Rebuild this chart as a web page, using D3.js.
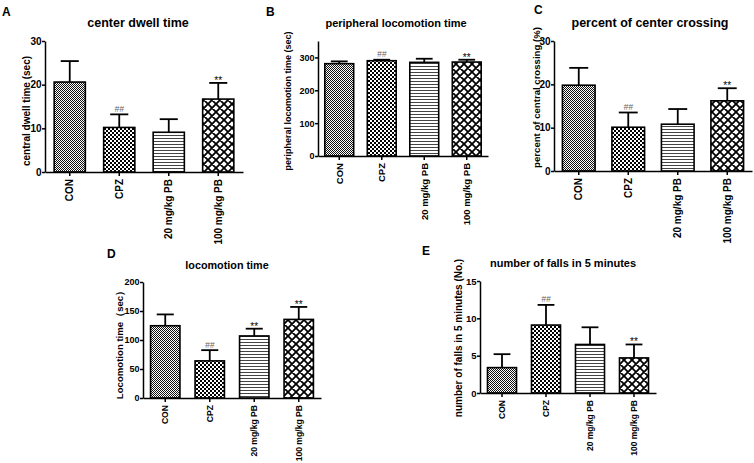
<!DOCTYPE html>
<html><head><meta charset="utf-8">
<script src="https://cdn.jsdelivr.net/npm/d3@7"></script>
<style>
html,body{margin:0;padding:0;background:#fff;}
text{font-family:"Liberation Sans",Arial,sans-serif;}
</style></head>
<body><svg id="c" width="754" height="463"></svg>
<script>
const categories = ["CON", "CPZ", "20 mg/kg PB", "100 mg/kg PB"];
const marks = ["", "##", "", "**"];
const marksD = ["", "##", "**", "**"];

const dwellMean = [20.6, 10.2, 9.1, 16.7];
const dwellSem  = [4.8, 3.0, 3.0, 3.7];
const dwellTicks = [0, 10, 20, 30];

const periMean = [281, 290, 285, 286];
const periSem  = [7, 3, 11, 7];
const periTicks = [0, 100, 200, 300];

const crossMean = [19.8, 10.1, 10.8, 16.2];
const crossSem  = [4.0, 3.4, 3.5, 2.9];
const crossTicks = [0, 10, 20, 30];

const locoMean = [124.6, 64, 107, 135.5];
const locoSem  = [19.5, 18.5, 12.5, 21.5];
const locoTicks = [0, 50, 100, 150, 200];

const fallsMean = [3.4, 9.1, 6.5, 4.7];
const fallsSem  = [1.8, 2.7, 2.3, 1.8];
const fallsTicks = [0, 5, 10, 15];

const svg = d3.select("#c");
const defs = svg.append("defs");

// CON: fine checker gray
(function(){
  const p = defs.append("pattern").attr("id","pCON").attr("patternUnits","userSpaceOnUse").attr("width",2).attr("height",2);
  p.append("rect").attr("width",2).attr("height",2).attr("fill","#fff");
  p.append("rect").attr("x",0).attr("y",0).attr("width",1).attr("height",1).attr("fill","#111");
  p.append("rect").attr("x",1).attr("y",1).attr("width",1).attr("height",1).attr("fill","#111");
})();
// CPZ: checker 2px
(function(){
  const p = defs.append("pattern").attr("id","pCPZ").attr("patternUnits","userSpaceOnUse").attr("width",4).attr("height",4);
  p.append("rect").attr("width",4).attr("height",4).attr("fill","#fff");
  p.append("rect").attr("x",0).attr("y",0).attr("width",2).attr("height",2).attr("fill","#000");
  p.append("rect").attr("x",2).attr("y",2).attr("width",2).attr("height",2).attr("fill","#000");
})();
// 20 mg: horizontal lines
(function(){
  const p = defs.append("pattern").attr("id","p20").attr("patternUnits","userSpaceOnUse").attr("width",4).attr("height",3);
  p.append("rect").attr("width",4).attr("height",3).attr("fill","#fff");
  p.append("rect").attr("x",0).attr("y",0).attr("width",4).attr("height",1).attr("fill","#444");
})();
// 100 mg: diamond crosshatch
(function(){
  const p = defs.append("pattern").attr("id","p100").attr("patternUnits","userSpaceOnUse").attr("width",8).attr("height",8);
  p.append("rect").attr("width",8).attr("height",8).attr("fill","#fff");
  p.append("path").attr("d","M0,0L8,8M8,0L0,8M-2,2L2,-2M6,10L10,6M-2,6L2,10M6,-2L10,2")
    .attr("stroke","#000").attr("stroke-width",1.8).attr("fill","none");
})();
const fills = ["url(#pCON)","url(#pCPZ)","url(#p20)","url(#p100)"];

function panel(o){
  const g = svg.append("g");
  const x = d3.scaleBand().domain(categories).range([o.x0, o.x1]).paddingInner(o.pad).paddingOuter(o.pad/2);
  const y = d3.scaleLinear().domain([0, o.ymax]).range([o.yb, o.yt]);
  const data = categories.map((c,i)=>({c, m:o.mean[i], s:o.sem[i], k:o.marks[i], f:fills[i]}));
  const capW = x.bandwidth()*0.58;
  data.forEach(d=>{
    const cx = x(d.c)+x.bandwidth()/2;
    g.append("line").attr("x1",cx).attr("x2",cx).attr("y1",y(d.m)).attr("y2",y(d.m+d.s)).attr("stroke","#000").attr("stroke-width",1.8);
    g.append("line").attr("x1",cx-capW/2).attr("x2",cx+capW/2).attr("y1",y(d.m+d.s)).attr("y2",y(d.m+d.s)).attr("stroke","#000").attr("stroke-width",1.8);
    if (d.k) {
      const ty = d.k==="**" ? y(d.m+d.s)+1 : y(d.m+d.s)-2.5;
      g.append("text").attr("x",cx).attr("y", ty)
        .attr("transform",`rotate(0.01,${cx},${ty})`)
        .attr("text-anchor","middle").attr("font-size", d.k==="**"?10:8.5)
        .attr("font-style", d.k==="##"?"italic":"normal")
        .attr("fill", d.k==="##"?"#666":"#000").text(d.k);
    }
  });
  g.selectAll("rect.bar").data(data).enter().append("rect").attr("class","bar")
    .attr("x",d=>x(d.c)).attr("width",x.bandwidth())
    .attr("y",d=>y(d.m)).attr("height",d=>y(0)-y(d.m))
    .attr("fill",d=>d.f).attr("stroke","#000").attr("stroke-width",1.6);
  const ya = g.append("g").attr("transform",`translate(${o.x0},0)`)
    .call(d3.axisLeft(y).tickValues(o.ticks).tickSize(3).tickSizeOuter(0).tickPadding(0.5));
  ya.selectAll("text").attr("font-size",o.tf).attr("font-weight","bold").attr("font-family","Liberation Sans, Arial, sans-serif");
  const xa = g.append("g").attr("transform",`translate(0,${o.yb})`)
    .call(d3.axisBottom(x).tickSize(4).tickSizeOuter(0));
  xa.selectAll("text").attr("font-size",o.xf).attr("font-weight","bold").attr("font-family","Liberation Sans, Arial, sans-serif")
    .attr("text-anchor","end").attr("transform","rotate(-90)").attr("dy","0.35em").attr("dx",0).attr("x",-7).attr("y",0);
  [ya,xa].forEach(a=>{a.selectAll("path,line").attr("stroke","#000").attr("stroke-width",1.5);});
  g.append("text").attr("x",o.tx).attr("y",o.ty).attr("text-anchor","middle").attr("font-size",o.tsz).attr("font-weight","bold").text(o.title);
  g.append("text").attr("x",o.lx).attr("y",o.ly).attr("font-size",12).attr("font-weight","bold").text(o.letter);
  g.append("text").attr("transform",`translate(${o.yx},${o.yy}) rotate(-90)`).attr("text-anchor","middle")
    .attr("font-size",o.ysz).attr("font-weight","bold").text(o.ylab);
}

panel({x0:45,x1:243,yb:172,yt:41,ymax:30,ticks:dwellTicks,mean:dwellMean,sem:dwellSem,marks:marks,pad:0.37,tf:10,xf:10,
  title:"center dwell time",tx:138,ty:27,tsz:12.5,letter:"A",lx:2,ly:16,ylab:"central dwell time (sec)",yx:29.5,yy:111,ysz:10});
panel({x0:318,x1:488,yb:156,yt:41,ymax:350,ticks:periTicks,mean:periMean,sem:periSem,marks:marks,pad:0.32,tf:9,xf:9.5,
  title:"peripheral locomotion time",tx:396,ty:27,tsz:11,letter:"B",lx:266,ly:16,ylab:"peripheral locomotion time (sec)",yx:291,yy:101,ysz:9});
panel({x0:554,x1:752,yb:171,yt:41,ymax:30,ticks:crossTicks,mean:crossMean,sem:crossSem,marks:marks,pad:0.34,tf:10,xf:10,
  title:"percent of center crossing",tx:650,ty:27,tsz:12.5,letter:"C",lx:534,ly:14,ylab:"percent of central crossing (%)",yx:540,yy:97.5,ysz:9.6});
panel({x0:143,x1:321,yb:398,yt:282,ymax:200,ticks:locoTicks,mean:locoMean,sem:locoSem,marks:marksD,pad:0.34,tf:9,xf:8.6,
  title:"locomotion time",tx:227,ty:269,tsz:10.8,letter:"D",lx:107,ly:258,ylab:"Locomotion time（sec）",yx:122.5,yy:342.5,ysz:9.6});
panel({x0:480,x1:656,yb:393,yt:281,ymax:15,ticks:fallsTicks,mean:fallsMean,sem:fallsSem,marks:marks,pad:0.34,tf:9.5,xf:8.5,
  title:"number of falls in 5 minutes",tx:563,ty:267,tsz:11,letter:"E",lx:422,ly:255,ylab:"number of falls in 5 minutes (No.)",yx:461.5,yy:338,ysz:10});
</script></body></html>
